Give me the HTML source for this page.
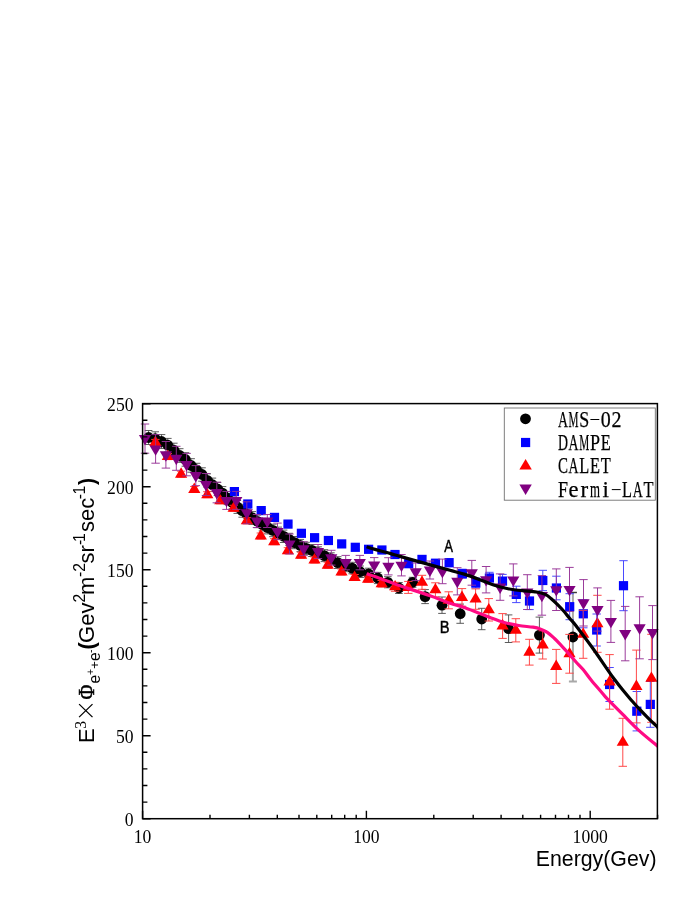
<!DOCTYPE html><html><head><meta charset="utf-8"><title>chart</title><style>html,body{margin:0;padding:0;background:#fff}svg{display:block;will-change:transform;opacity:0.999}</style></head><body><svg width="698" height="903" viewBox="0 0 698 903">
<rect width="698" height="903" fill="#fff"/>
<g>
<path d="M148.6 430.5V444.5M144.8 430.5H152.4M144.8 444.5H152.4" stroke="#4a4a4a" stroke-width="0.9" fill="none"/>
<path d="M155.2 431.8V445.7M151.4 431.8H159.0M151.4 445.7H159.0" stroke="#4a4a4a" stroke-width="0.9" fill="none"/>
<path d="M161.5 434.6V448.4M157.7 434.6H165.3M157.7 448.4H165.3" stroke="#4a4a4a" stroke-width="0.9" fill="none"/>
<path d="M167.8 438.4V452.1M164.0 438.4H171.6M164.0 452.1H171.6" stroke="#4a4a4a" stroke-width="0.9" fill="none"/>
<path d="M173.8 443.2V456.9M170.0 443.2H177.6M170.0 456.9H177.6" stroke="#4a4a4a" stroke-width="0.9" fill="none"/>
<path d="M179.7 448.7V462.3M175.9 448.7H183.5M175.9 462.3H183.5" stroke="#4a4a4a" stroke-width="0.9" fill="none"/>
<path d="M185.4 452.7V466.2M181.6 452.7H189.2M181.6 466.2H189.2" stroke="#4a4a4a" stroke-width="0.9" fill="none"/>
<path d="M191.1 458.7V472.2M187.3 458.7H194.9M187.3 472.2H194.9" stroke="#4a4a4a" stroke-width="0.9" fill="none"/>
<path d="M196.6 463.3V476.7M192.8 463.3H200.4M192.8 476.7H200.4" stroke="#4a4a4a" stroke-width="0.9" fill="none"/>
<path d="M202.0 467.8V481.2M198.2 467.8H205.8M198.2 481.2H205.8" stroke="#4a4a4a" stroke-width="0.9" fill="none"/>
<path d="M207.2 473.8V487.1M203.4 473.8H211.0M203.4 487.1H211.0" stroke="#4a4a4a" stroke-width="0.9" fill="none"/>
<path d="M212.4 478.1V491.4M208.6 478.1H216.2M208.6 491.4H216.2" stroke="#4a4a4a" stroke-width="0.9" fill="none"/>
<path d="M217.5 482.4V495.6M213.7 482.4H221.3M213.7 495.6H221.3" stroke="#4a4a4a" stroke-width="0.9" fill="none"/>
<path d="M222.5 486.6V499.7M218.7 486.6H226.3M218.7 499.7H226.3" stroke="#4a4a4a" stroke-width="0.9" fill="none"/>
<path d="M227.4 491.5V504.6M223.6 491.5H231.2M223.6 504.6H231.2" stroke="#4a4a4a" stroke-width="0.9" fill="none"/>
<path d="M232.3 496.0V509.0M228.5 496.0H236.1M228.5 509.0H236.1" stroke="#4a4a4a" stroke-width="0.9" fill="none"/>
<path d="M237.3 500.5V513.4M233.5 500.5H241.1M233.5 513.4H241.1" stroke="#4a4a4a" stroke-width="0.9" fill="none"/>
<path d="M242.2 504.3V517.2M238.4 504.3H246.0M238.4 517.2H246.0" stroke="#4a4a4a" stroke-width="0.9" fill="none"/>
<path d="M247.2 508.0V520.9M243.4 508.0H251.0M243.4 520.9H251.0" stroke="#4a4a4a" stroke-width="0.9" fill="none"/>
<path d="M252.3 511.6V524.4M248.5 511.6H256.1M248.5 524.4H256.1" stroke="#4a4a4a" stroke-width="0.9" fill="none"/>
<path d="M257.3 515.0V527.7M253.5 515.0H261.1M253.5 527.7H261.1" stroke="#4a4a4a" stroke-width="0.9" fill="none"/>
<path d="M262.5 518.3V530.9M258.7 518.3H266.3M258.7 530.9H266.3" stroke="#4a4a4a" stroke-width="0.9" fill="none"/>
<path d="M267.7 521.3V533.9M263.9 521.3H271.5M263.9 533.9H271.5" stroke="#4a4a4a" stroke-width="0.9" fill="none"/>
<path d="M272.9 524.2V536.7M269.1 524.2H276.7M269.1 536.7H276.7" stroke="#4a4a4a" stroke-width="0.9" fill="none"/>
<path d="M278.2 527.1V539.5M274.4 527.1H282.0M274.4 539.5H282.0" stroke="#4a4a4a" stroke-width="0.9" fill="none"/>
<path d="M283.6 530.1V542.5M279.8 530.1H287.4M279.8 542.5H287.4" stroke="#4a4a4a" stroke-width="0.9" fill="none"/>
<path d="M289.1 533.3V545.6M285.3 533.3H292.9M285.3 545.6H292.9" stroke="#4a4a4a" stroke-width="0.9" fill="none"/>
<path d="M294.6 536.5V548.7M290.8 536.5H298.4M290.8 548.7H298.4" stroke="#4a4a4a" stroke-width="0.9" fill="none"/>
<path d="M300.3 539.4V551.6M296.5 539.4H304.1M296.5 551.6H304.1" stroke="#4a4a4a" stroke-width="0.9" fill="none"/>
<path d="M306.1 542.3V554.4M302.3 542.3H309.9M302.3 554.4H309.9" stroke="#4a4a4a" stroke-width="0.9" fill="none"/>
<path d="M312.0 544.5V556.5M308.2 544.5H315.8M308.2 556.5H315.8" stroke="#4a4a4a" stroke-width="0.9" fill="none"/>
<path d="M318.1 546.8V558.7M314.3 546.8H321.9M314.3 558.7H321.9" stroke="#4a4a4a" stroke-width="0.9" fill="none"/>
<path d="M324.4 549.7V561.6M320.6 549.7H328.2M320.6 561.6H328.2" stroke="#4a4a4a" stroke-width="0.9" fill="none"/>
<path d="M330.9 552.8V564.6M327.1 552.8H334.7M327.1 564.6H334.7" stroke="#4a4a4a" stroke-width="0.9" fill="none"/>
<path d="M337.7 556.7V568.5M333.9 556.7H341.5M333.9 568.5H341.5" stroke="#4a4a4a" stroke-width="0.9" fill="none"/>
<path d="M344.8 560.1V571.7M341.0 560.1H348.6M341.0 571.7H348.6" stroke="#4a4a4a" stroke-width="0.9" fill="none"/>
<path d="M352.2 562.3V573.8M348.4 562.3H356.0M348.4 573.8H356.0" stroke="#4a4a4a" stroke-width="0.9" fill="none"/>
<path d="M360.1 566.0V577.5M356.3 566.0H363.9M356.3 577.5H363.9" stroke="#4a4a4a" stroke-width="0.9" fill="none"/>
<path d="M368.6 568.2V579.6M364.8 568.2H372.4M364.8 579.6H372.4" stroke="#4a4a4a" stroke-width="0.9" fill="none"/>
<path d="M377.7 572.4V583.6M373.9 572.4H381.5M373.9 583.6H381.5" stroke="#4a4a4a" stroke-width="0.9" fill="none"/>
<path d="M387.8 576.7V587.8M384.0 576.7H391.6M384.0 587.8H391.6" stroke="#4a4a4a" stroke-width="0.9" fill="none"/>
<path d="M398.9 582.5V593.5M395.1 582.5H402.7M395.1 593.5H402.7" stroke="#4a4a4a" stroke-width="0.9" fill="none"/>
<path d="M412.6 577.3V587.3M408.8 577.3H416.4M408.8 587.3H416.4" stroke="#4a4a4a" stroke-width="0.9" fill="none"/>
<path d="M425.1 589.6V603.6M421.3 589.6H428.9M421.3 603.6H428.9" stroke="#4a4a4a" stroke-width="0.9" fill="none"/>
<path d="M442.0 597.0V613.4M438.2 597.0H445.8M438.2 613.4H445.8" stroke="#4a4a4a" stroke-width="0.9" fill="none"/>
<path d="M460.2 604.1V623.3M456.4 604.1H464.0M456.4 623.3H464.0" stroke="#4a4a4a" stroke-width="0.9" fill="none"/>
<path d="M481.7 608.3V629.7M477.9 608.3H485.5M477.9 629.7H485.5" stroke="#4a4a4a" stroke-width="0.9" fill="none"/>
<path d="M508.6 614.9V642.5M504.8 614.9H512.4M504.8 642.5H512.4" stroke="#4a4a4a" stroke-width="0.9" fill="none"/>
<path d="M539.4 617.1V653.1M535.6 617.1H543.2M535.6 653.1H543.2" stroke="#4a4a4a" stroke-width="0.9" fill="none"/>
<path d="M572.9 592.5V681.5M568.9 592.5H576.9M568.9 681.5H576.9" stroke="#a8a8a8" stroke-width="2.0" fill="none"/>
<path d="M568.9 592.5H576.9" stroke="#222" stroke-width="0.8"/>
<circle cx="148.6" cy="437.5" r="5.4" fill="#000"/>
<circle cx="155.2" cy="438.7" r="5.4" fill="#000"/>
<circle cx="161.5" cy="441.5" r="5.4" fill="#000"/>
<circle cx="167.8" cy="445.2" r="5.4" fill="#000"/>
<circle cx="173.8" cy="450.1" r="5.4" fill="#000"/>
<circle cx="179.7" cy="455.5" r="5.4" fill="#000"/>
<circle cx="185.4" cy="459.5" r="5.4" fill="#000"/>
<circle cx="191.1" cy="465.5" r="5.4" fill="#000"/>
<circle cx="196.6" cy="470.0" r="5.4" fill="#000"/>
<circle cx="202.0" cy="474.5" r="5.4" fill="#000"/>
<circle cx="207.2" cy="480.4" r="5.4" fill="#000"/>
<circle cx="212.4" cy="484.7" r="5.4" fill="#000"/>
<circle cx="217.5" cy="489.0" r="5.4" fill="#000"/>
<circle cx="222.5" cy="493.1" r="5.4" fill="#000"/>
<circle cx="227.4" cy="498.0" r="5.4" fill="#000"/>
<circle cx="232.3" cy="502.5" r="5.4" fill="#000"/>
<circle cx="237.3" cy="507.0" r="5.4" fill="#000"/>
<circle cx="242.2" cy="510.7" r="5.4" fill="#000"/>
<circle cx="247.2" cy="514.4" r="5.4" fill="#000"/>
<circle cx="252.3" cy="518.0" r="5.4" fill="#000"/>
<circle cx="257.3" cy="521.3" r="5.4" fill="#000"/>
<circle cx="262.5" cy="524.6" r="5.4" fill="#000"/>
<circle cx="267.7" cy="527.6" r="5.4" fill="#000"/>
<circle cx="272.9" cy="530.4" r="5.4" fill="#000"/>
<circle cx="278.2" cy="533.3" r="5.4" fill="#000"/>
<circle cx="283.6" cy="536.3" r="5.4" fill="#000"/>
<circle cx="289.1" cy="539.4" r="5.4" fill="#000"/>
<circle cx="294.6" cy="542.6" r="5.4" fill="#000"/>
<circle cx="300.3" cy="545.5" r="5.4" fill="#000"/>
<circle cx="306.1" cy="548.4" r="5.4" fill="#000"/>
<circle cx="312.0" cy="550.5" r="5.4" fill="#000"/>
<circle cx="318.1" cy="552.7" r="5.4" fill="#000"/>
<circle cx="324.4" cy="555.7" r="5.4" fill="#000"/>
<circle cx="330.9" cy="558.7" r="5.4" fill="#000"/>
<circle cx="337.7" cy="562.6" r="5.4" fill="#000"/>
<circle cx="344.8" cy="565.9" r="5.4" fill="#000"/>
<circle cx="352.2" cy="568.1" r="5.4" fill="#000"/>
<circle cx="360.1" cy="571.7" r="5.4" fill="#000"/>
<circle cx="368.6" cy="573.9" r="5.4" fill="#000"/>
<circle cx="377.7" cy="578.0" r="5.4" fill="#000"/>
<circle cx="387.8" cy="582.3" r="5.4" fill="#000"/>
<circle cx="398.9" cy="588.0" r="5.4" fill="#000"/>
<circle cx="412.6" cy="582.3" r="5.4" fill="#000"/>
<circle cx="425.1" cy="596.6" r="5.4" fill="#000"/>
<circle cx="442.0" cy="605.2" r="5.4" fill="#000"/>
<circle cx="460.2" cy="613.7" r="5.4" fill="#000"/>
<circle cx="481.7" cy="619.0" r="5.4" fill="#000"/>
<circle cx="508.6" cy="628.7" r="5.4" fill="#000"/>
<circle cx="539.4" cy="635.1" r="5.4" fill="#000"/>
<circle cx="572.9" cy="637.0" r="5.4" fill="#000"/>
</g>
<g>
<path d="M234.4 489.6V493.6M230.2 489.6H238.6M230.2 493.6H238.6" stroke="#4040ff" stroke-width="0.95" fill="none"/>
<path d="M247.8 502.0V506.0M243.6 502.0H252.0M243.6 506.0H252.0" stroke="#4040ff" stroke-width="0.95" fill="none"/>
<path d="M261.2 508.6V512.6M257.0 508.6H265.4M257.0 512.6H265.4" stroke="#4040ff" stroke-width="0.95" fill="none"/>
<path d="M274.5 515.4V519.4M270.3 515.4H278.7M270.3 519.4H278.7" stroke="#4040ff" stroke-width="0.95" fill="none"/>
<path d="M288.0 522.1V526.1M283.8 522.1H292.2M283.8 526.1H292.2" stroke="#4040ff" stroke-width="0.95" fill="none"/>
<path d="M301.4 531.3V535.3M297.2 531.3H305.6M297.2 535.3H305.6" stroke="#4040ff" stroke-width="0.95" fill="none"/>
<path d="M314.6 535.7V539.7M310.4 535.7H318.8M310.4 539.7H318.8" stroke="#4040ff" stroke-width="0.95" fill="none"/>
<path d="M328.4 538.5V542.5M324.2 538.5H332.6M324.2 542.5H332.6" stroke="#4040ff" stroke-width="0.95" fill="none"/>
<path d="M341.7 541.9V545.9M337.5 541.9H345.9M337.5 545.9H345.9" stroke="#4040ff" stroke-width="0.95" fill="none"/>
<path d="M355.3 545.3V549.3M351.1 545.3H359.5M351.1 549.3H359.5" stroke="#4040ff" stroke-width="0.95" fill="none"/>
<path d="M368.6 547.3V551.3M364.4 547.3H372.8M364.4 551.3H372.8" stroke="#4040ff" stroke-width="0.95" fill="none"/>
<path d="M381.9 547.5V552.5M377.7 547.5H386.1M377.7 552.5H386.1" stroke="#4040ff" stroke-width="0.95" fill="none"/>
<path d="M395.0 551.5V557.5M390.8 551.5H399.2M390.8 557.5H399.2" stroke="#4040ff" stroke-width="0.95" fill="none"/>
<path d="M408.7 560.7V566.7M404.5 560.7H412.9M404.5 566.7H412.9" stroke="#4040ff" stroke-width="0.95" fill="none"/>
<path d="M422.0 555.9V562.9M417.8 555.9H426.2M417.8 562.9H426.2" stroke="#4040ff" stroke-width="0.95" fill="none"/>
<path d="M435.5 559.3V567.3M431.3 559.3H439.7M431.3 567.3H439.7" stroke="#4040ff" stroke-width="0.95" fill="none"/>
<path d="M449.1 558.7V566.7M444.9 558.7H453.3M444.9 566.7H453.3" stroke="#4040ff" stroke-width="0.95" fill="none"/>
<path d="M462.4 569.2V578.2M458.2 569.2H466.6M458.2 578.2H466.6" stroke="#4040ff" stroke-width="0.95" fill="none"/>
<path d="M475.8 578.0V588.0M471.6 578.0H480.0M471.6 588.0H480.0" stroke="#4040ff" stroke-width="0.95" fill="none"/>
<path d="M489.4 572.3V583.7M485.2 572.3H493.6M485.2 583.7H493.6" stroke="#4040ff" stroke-width="0.95" fill="none"/>
<path d="M502.5 574.4V587.8M498.3 574.4H506.7M498.3 587.8H506.7" stroke="#4040ff" stroke-width="0.95" fill="none"/>
<path d="M516.3 586.2V602.6M512.1 586.2H520.5M512.1 602.6H520.5" stroke="#4040ff" stroke-width="0.95" fill="none"/>
<path d="M529.5 592.4V609.6M525.3 592.4H533.7M525.3 609.6H533.7" stroke="#4040ff" stroke-width="0.95" fill="none"/>
<path d="M542.8 570.3V590.7M538.6 570.3H547.0M538.6 590.7H547.0" stroke="#4040ff" stroke-width="0.95" fill="none"/>
<path d="M556.4 576.2V599.8M552.2 576.2H560.6M552.2 599.8H560.6" stroke="#4040ff" stroke-width="0.95" fill="none"/>
<path d="M569.7 593.7V619.7M565.5 593.7H573.9M565.5 619.7H573.9" stroke="#4040ff" stroke-width="0.95" fill="none"/>
<path d="M583.3 599.8V627.8M579.1 599.8H587.5M579.1 627.8H587.5" stroke="#4040ff" stroke-width="0.95" fill="none"/>
<path d="M596.7 614.0V646.0M592.5 614.0H600.9M592.5 646.0H600.9" stroke="#4040ff" stroke-width="0.95" fill="none"/>
<path d="M609.6 667.5V701.5M605.4 667.5H613.8M605.4 701.5H613.8" stroke="#4040ff" stroke-width="0.95" fill="none"/>
<path d="M623.5 560.7V610.7M619.3 560.7H627.7M619.3 610.7H627.7" stroke="#4040ff" stroke-width="0.95" fill="none"/>
<path d="M636.8 691.5V730.9M632.6 691.5H641.0M632.6 730.9H641.0" stroke="#4040ff" stroke-width="0.95" fill="none"/>
<path d="M650.3 681.5V727.3M646.1 681.5H654.5M646.1 727.3H654.5" stroke="#4040ff" stroke-width="0.95" fill="none"/>
<rect x="229.8" y="487.0" width="9.2" height="9.2" fill="#0000ff"/>
<rect x="243.2" y="499.4" width="9.2" height="9.2" fill="#0000ff"/>
<rect x="256.6" y="506.0" width="9.2" height="9.2" fill="#0000ff"/>
<rect x="269.9" y="512.8" width="9.2" height="9.2" fill="#0000ff"/>
<rect x="283.4" y="519.5" width="9.2" height="9.2" fill="#0000ff"/>
<rect x="296.8" y="528.7" width="9.2" height="9.2" fill="#0000ff"/>
<rect x="310.0" y="533.1" width="9.2" height="9.2" fill="#0000ff"/>
<rect x="323.8" y="535.9" width="9.2" height="9.2" fill="#0000ff"/>
<rect x="337.1" y="539.3" width="9.2" height="9.2" fill="#0000ff"/>
<rect x="350.7" y="542.7" width="9.2" height="9.2" fill="#0000ff"/>
<rect x="364.0" y="544.7" width="9.2" height="9.2" fill="#0000ff"/>
<rect x="377.3" y="545.4" width="9.2" height="9.2" fill="#0000ff"/>
<rect x="390.4" y="549.9" width="9.2" height="9.2" fill="#0000ff"/>
<rect x="404.1" y="559.1" width="9.2" height="9.2" fill="#0000ff"/>
<rect x="417.4" y="554.8" width="9.2" height="9.2" fill="#0000ff"/>
<rect x="430.9" y="558.7" width="9.2" height="9.2" fill="#0000ff"/>
<rect x="444.5" y="558.1" width="9.2" height="9.2" fill="#0000ff"/>
<rect x="457.8" y="569.1" width="9.2" height="9.2" fill="#0000ff"/>
<rect x="471.2" y="578.4" width="9.2" height="9.2" fill="#0000ff"/>
<rect x="484.8" y="573.4" width="9.2" height="9.2" fill="#0000ff"/>
<rect x="497.9" y="576.5" width="9.2" height="9.2" fill="#0000ff"/>
<rect x="511.7" y="589.8" width="9.2" height="9.2" fill="#0000ff"/>
<rect x="524.9" y="596.4" width="9.2" height="9.2" fill="#0000ff"/>
<rect x="538.2" y="575.9" width="9.2" height="9.2" fill="#0000ff"/>
<rect x="551.8" y="583.4" width="9.2" height="9.2" fill="#0000ff"/>
<rect x="565.1" y="602.1" width="9.2" height="9.2" fill="#0000ff"/>
<rect x="578.7" y="609.2" width="9.2" height="9.2" fill="#0000ff"/>
<rect x="592.1" y="625.4" width="9.2" height="9.2" fill="#0000ff"/>
<rect x="605.0" y="679.9" width="9.2" height="9.2" fill="#0000ff"/>
<rect x="618.9" y="581.1" width="9.2" height="9.2" fill="#0000ff"/>
<rect x="632.2" y="706.6" width="9.2" height="9.2" fill="#0000ff"/>
<rect x="645.7" y="699.8" width="9.2" height="9.2" fill="#0000ff"/>
</g>
<g>
<path d="M155.4 439.4V445.4M151.2 439.4H159.6M151.2 445.4H159.6" stroke="#ff4040" stroke-width="0.95" fill="none"/>
<path d="M167.8 453.6V459.6M163.6 453.6H172.0M163.6 459.6H172.0" stroke="#ff4040" stroke-width="0.95" fill="none"/>
<path d="M181.1 471.2V477.2M176.9 471.2H185.3M176.9 477.2H185.3" stroke="#ff4040" stroke-width="0.95" fill="none"/>
<path d="M194.3 486.5V492.5M190.1 486.5H198.5M190.1 492.5H198.5" stroke="#ff4040" stroke-width="0.95" fill="none"/>
<path d="M207.3 491.7V497.7M203.1 491.7H211.5M203.1 497.7H211.5" stroke="#ff4040" stroke-width="0.95" fill="none"/>
<path d="M220.3 497.8V503.8M216.1 497.8H224.5M216.1 503.8H224.5" stroke="#ff4040" stroke-width="0.95" fill="none"/>
<path d="M233.6 505.3V511.3M229.4 505.3H237.8M229.4 511.3H237.8" stroke="#ff4040" stroke-width="0.95" fill="none"/>
<path d="M246.9 517.7V523.7M242.7 517.7H251.1M242.7 523.7H251.1" stroke="#ff4040" stroke-width="0.95" fill="none"/>
<path d="M260.8 533.0V539.0M256.6 533.0H265.0M256.6 539.0H265.0" stroke="#ff4040" stroke-width="0.95" fill="none"/>
<path d="M274.2 538.7V544.7M270.0 538.7H278.4M270.0 544.7H278.4" stroke="#ff4040" stroke-width="0.95" fill="none"/>
<path d="M287.9 547.7V553.7M283.7 547.7H292.1M283.7 553.7H292.1" stroke="#ff4040" stroke-width="0.95" fill="none"/>
<path d="M301.1 552.2V558.2M296.9 552.2H305.3M296.9 558.2H305.3" stroke="#ff4040" stroke-width="0.95" fill="none"/>
<path d="M314.5 557.0V563.0M310.3 557.0H318.7M310.3 563.0H318.7" stroke="#ff4040" stroke-width="0.95" fill="none"/>
<path d="M327.8 562.2V568.2M323.6 562.2H332.0M323.6 568.2H332.0" stroke="#ff4040" stroke-width="0.95" fill="none"/>
<path d="M341.5 569.0V575.0M337.3 569.0H345.7M337.3 575.0H345.7" stroke="#ff4040" stroke-width="0.95" fill="none"/>
<path d="M354.6 574.5V580.5M350.4 574.5H358.8M350.4 580.5H358.8" stroke="#ff4040" stroke-width="0.95" fill="none"/>
<path d="M368.1 576.2V582.2M363.9 576.2H372.3M363.9 582.2H372.3" stroke="#ff4040" stroke-width="0.95" fill="none"/>
<path d="M381.7 580.5V587.1M377.5 580.5H385.9M377.5 587.1H385.9" stroke="#ff4040" stroke-width="0.95" fill="none"/>
<path d="M395.1 582.3V591.3M390.9 582.3H399.3M390.9 591.3H399.3" stroke="#ff4040" stroke-width="0.95" fill="none"/>
<path d="M408.3 581.4V593.4M404.1 581.4H412.5M404.1 593.4H412.5" stroke="#ff4040" stroke-width="0.95" fill="none"/>
<path d="M422.0 575.3V589.3M417.8 575.3H426.2M417.8 589.3H426.2" stroke="#ff4040" stroke-width="0.95" fill="none"/>
<path d="M435.4 582.8V596.8M431.2 582.8H439.6M431.2 596.8H439.6" stroke="#ff4040" stroke-width="0.95" fill="none"/>
<path d="M448.7 591.8V608.8M444.5 591.8H452.9M444.5 608.8H452.9" stroke="#ff4040" stroke-width="0.95" fill="none"/>
<path d="M462.0 588.6V606.2M457.8 588.6H466.2M457.8 606.2H466.2" stroke="#ff4040" stroke-width="0.95" fill="none"/>
<path d="M475.6 588.9V609.3M471.4 588.9H479.8M471.4 609.3H479.8" stroke="#ff4040" stroke-width="0.95" fill="none"/>
<path d="M488.8 598.6V621.0M484.6 598.6H493.0M484.6 621.0H493.0" stroke="#ff4040" stroke-width="0.95" fill="none"/>
<path d="M502.6 613.6V638.4M498.4 613.6H506.8M498.4 638.4H506.8" stroke="#ff4040" stroke-width="0.95" fill="none"/>
<path d="M515.8 618.7V641.9M511.6 618.7H520.0M511.6 641.9H520.0" stroke="#ff4040" stroke-width="0.95" fill="none"/>
<path d="M529.4 639.3V665.1M525.2 639.3H533.6M525.2 665.1H533.6" stroke="#ff4040" stroke-width="0.95" fill="none"/>
<path d="M542.7 630.8V659.0M538.5 630.8H546.9M538.5 659.0H546.9" stroke="#ff4040" stroke-width="0.95" fill="none"/>
<path d="M556.2 649.4V683.4M552.0 649.4H560.4M552.0 683.4H560.4" stroke="#ff4040" stroke-width="0.95" fill="none"/>
<path d="M569.5 634.4V673.2M565.3 634.4H573.7M565.3 673.2H573.7" stroke="#ff4040" stroke-width="0.95" fill="none"/>
<path d="M583.2 610.3V658.3M579.0 610.3H587.4M579.0 658.3H587.4" stroke="#ff4040" stroke-width="0.95" fill="none"/>
<path d="M597.4 595.3V652.3M593.2 595.3H601.6M593.2 652.3H601.6" stroke="#ff4040" stroke-width="0.95" fill="none"/>
<path d="M609.6 654.6V709.2M605.4 654.6H613.8M605.4 709.2H613.8" stroke="#ff4040" stroke-width="0.95" fill="none"/>
<path d="M622.8 718.3V766.3M618.6 718.3H627.0M618.6 766.3H627.0" stroke="#ff4040" stroke-width="0.95" fill="none"/>
<path d="M636.4 650.1V722.9M632.2 650.1H640.6M632.2 722.9H640.6" stroke="#ff4040" stroke-width="0.95" fill="none"/>
<path d="M651.4 634.3V722.3M647.2 634.3H655.6M647.2 722.3H655.6" stroke="#ff4040" stroke-width="0.95" fill="none"/>
<path d="M155.4 435.5L161.5 445.9H149.3Z" fill="#ff0000"/>
<path d="M167.8 449.7L173.9 460.1H161.7Z" fill="#ff0000"/>
<path d="M181.1 467.3L187.2 477.7H175.0Z" fill="#ff0000"/>
<path d="M194.3 482.6L200.4 493.0H188.2Z" fill="#ff0000"/>
<path d="M207.3 487.8L213.4 498.2H201.2Z" fill="#ff0000"/>
<path d="M220.3 493.9L226.4 504.3H214.2Z" fill="#ff0000"/>
<path d="M233.6 501.4L239.7 511.8H227.5Z" fill="#ff0000"/>
<path d="M246.9 513.8L253.0 524.2H240.8Z" fill="#ff0000"/>
<path d="M260.8 529.1L266.9 539.5H254.7Z" fill="#ff0000"/>
<path d="M274.2 534.8L280.3 545.2H268.1Z" fill="#ff0000"/>
<path d="M287.9 543.8L294.0 554.2H281.8Z" fill="#ff0000"/>
<path d="M301.1 548.3L307.2 558.7H295.0Z" fill="#ff0000"/>
<path d="M314.5 553.1L320.6 563.5H308.4Z" fill="#ff0000"/>
<path d="M327.8 558.3L333.9 568.7H321.7Z" fill="#ff0000"/>
<path d="M341.5 565.1L347.6 575.5H335.4Z" fill="#ff0000"/>
<path d="M354.6 570.6L360.7 581.0H348.5Z" fill="#ff0000"/>
<path d="M368.1 572.3L374.2 582.7H362.0Z" fill="#ff0000"/>
<path d="M381.7 576.9L387.8 587.3H375.6Z" fill="#ff0000"/>
<path d="M395.1 579.9L401.2 590.3H389.0Z" fill="#ff0000"/>
<path d="M408.3 580.5L414.4 590.9H402.2Z" fill="#ff0000"/>
<path d="M422.0 575.4L428.1 585.8H415.9Z" fill="#ff0000"/>
<path d="M435.4 582.9L441.5 593.3H429.3Z" fill="#ff0000"/>
<path d="M448.7 593.4L454.8 603.8H442.6Z" fill="#ff0000"/>
<path d="M462.0 590.5L468.1 600.9H455.9Z" fill="#ff0000"/>
<path d="M475.6 592.2L481.7 602.6H469.5Z" fill="#ff0000"/>
<path d="M488.8 602.9L494.9 613.3H482.7Z" fill="#ff0000"/>
<path d="M502.6 619.1L508.7 629.5H496.5Z" fill="#ff0000"/>
<path d="M515.8 623.4L521.9 633.8H509.7Z" fill="#ff0000"/>
<path d="M529.4 645.3L535.5 655.7H523.3Z" fill="#ff0000"/>
<path d="M542.7 638.0L548.8 648.4H536.6Z" fill="#ff0000"/>
<path d="M556.2 659.5L562.3 669.9H550.1Z" fill="#ff0000"/>
<path d="M569.5 646.9L575.6 657.3H563.4Z" fill="#ff0000"/>
<path d="M583.2 627.4L589.3 637.8H577.1Z" fill="#ff0000"/>
<path d="M597.4 616.9L603.5 627.3H591.3Z" fill="#ff0000"/>
<path d="M609.6 675.0L615.7 685.4H603.5Z" fill="#ff0000"/>
<path d="M622.8 735.4L628.9 745.8H616.7Z" fill="#ff0000"/>
<path d="M636.4 679.6L642.5 690.0H630.3Z" fill="#ff0000"/>
<path d="M651.4 671.4L657.5 681.8H645.3Z" fill="#ff0000"/>
</g>
<g>
<path d="M145.0 424.0V453.2M140.8 424.0H149.2M140.8 453.2H149.2" stroke="#963296" stroke-width="0.95" fill="none"/>
<path d="M155.6 434.6V463.2M151.4 434.6H159.8M151.4 463.2H159.8" stroke="#963296" stroke-width="0.95" fill="none"/>
<path d="M165.9 441.5V468.1M161.7 441.5H170.1M161.7 468.1H170.1" stroke="#963296" stroke-width="0.95" fill="none"/>
<path d="M176.3 446.3V470.3M172.1 446.3H180.5M172.1 470.3H180.5" stroke="#963296" stroke-width="0.95" fill="none"/>
<path d="M186.6 453.4V475.8M182.4 453.4H190.8M182.4 475.8H190.8" stroke="#963296" stroke-width="0.95" fill="none"/>
<path d="M195.8 465.6V485.6M191.6 465.6H200.0M191.6 485.6H200.0" stroke="#963296" stroke-width="0.95" fill="none"/>
<path d="M206.0 473.5V495.5M201.8 473.5H210.2M201.8 495.5H210.2" stroke="#963296" stroke-width="0.95" fill="none"/>
<path d="M216.8 482.2V502.8M212.6 482.2H221.0M212.6 502.8H221.0" stroke="#963296" stroke-width="0.95" fill="none"/>
<path d="M226.5 491.4V509.4M222.3 491.4H230.7M222.3 509.4H230.7" stroke="#963296" stroke-width="0.95" fill="none"/>
<path d="M236.3 491.4V509.4M232.1 491.4H240.5M232.1 509.4H240.5" stroke="#963296" stroke-width="0.95" fill="none"/>
<path d="M246.8 501.8V523.8M242.6 501.8H251.0M242.6 523.8H251.0" stroke="#963296" stroke-width="0.95" fill="none"/>
<path d="M257.0 514.5V527.5M252.8 514.5H261.2M252.8 527.5H261.2" stroke="#963296" stroke-width="0.95" fill="none"/>
<path d="M267.3 514.5V527.5M263.1 514.5H271.5M263.1 527.5H271.5" stroke="#963296" stroke-width="0.95" fill="none"/>
<path d="M277.5 523.1V539.7M273.3 523.1H281.7M273.3 539.7H281.7" stroke="#963296" stroke-width="0.95" fill="none"/>
<path d="M289.5 534.0V554.0M285.3 534.0H293.7M285.3 554.0H293.7" stroke="#963296" stroke-width="0.95" fill="none"/>
<path d="M303.6 541.7V555.7M299.4 541.7H307.8M299.4 555.7H307.8" stroke="#963296" stroke-width="0.95" fill="none"/>
<path d="M318.0 544.5V558.5M313.8 544.5H322.2M313.8 558.5H322.2" stroke="#963296" stroke-width="0.95" fill="none"/>
<path d="M331.3 550.3V565.1M327.1 550.3H335.5M327.1 565.1H335.5" stroke="#963296" stroke-width="0.95" fill="none"/>
<path d="M345.7 555.4V569.8M341.5 555.4H349.9M341.5 569.8H349.9" stroke="#963296" stroke-width="0.95" fill="none"/>
<path d="M359.8 555.4V569.8M355.6 555.4H364.0M355.6 569.8H364.0" stroke="#963296" stroke-width="0.95" fill="none"/>
<path d="M374.2 557.6V572.4M370.0 557.6H378.4M370.0 572.4H378.4" stroke="#963296" stroke-width="0.95" fill="none"/>
<path d="M388.4 557.7V574.9M384.2 557.7H392.6M384.2 574.9H392.6" stroke="#963296" stroke-width="0.95" fill="none"/>
<path d="M401.5 554.5V575.9M397.3 554.5H405.7M397.3 575.9H405.7" stroke="#963296" stroke-width="0.95" fill="none"/>
<path d="M415.7 563.0V580.6M411.5 563.0H419.9M411.5 580.6H419.9" stroke="#963296" stroke-width="0.95" fill="none"/>
<path d="M429.9 561.0V579.0M425.7 561.0H434.1M425.7 579.0H434.1" stroke="#963296" stroke-width="0.95" fill="none"/>
<path d="M442.4 559.1V583.7M438.2 559.1H446.6M438.2 583.7H446.6" stroke="#963296" stroke-width="0.95" fill="none"/>
<path d="M457.3 567.7V594.9M453.1 567.7H461.5M453.1 594.9H461.5" stroke="#963296" stroke-width="0.95" fill="none"/>
<path d="M471.8 560.4V585.2M467.6 560.4H476.0M467.6 585.2H476.0" stroke="#963296" stroke-width="0.95" fill="none"/>
<path d="M486.1 566.5V592.9M481.9 566.5H490.3M481.9 592.9H490.3" stroke="#963296" stroke-width="0.95" fill="none"/>
<path d="M500.1 573.9V600.3M495.9 573.9H504.3M495.9 600.3H504.3" stroke="#963296" stroke-width="0.95" fill="none"/>
<path d="M513.3 563.9V595.9M509.1 563.9H517.5M509.1 595.9H517.5" stroke="#963296" stroke-width="0.95" fill="none"/>
<path d="M527.3 574.7V609.5M523.1 574.7H531.5M523.1 609.5H531.5" stroke="#963296" stroke-width="0.95" fill="none"/>
<path d="M541.9 575.6V615.2M537.7 575.6H546.1M537.7 615.2H546.1" stroke="#963296" stroke-width="0.95" fill="none"/>
<path d="M556.3 568.9V610.5M552.1 568.9H560.5M552.1 610.5H560.5" stroke="#963296" stroke-width="0.95" fill="none"/>
<path d="M569.5 567.4V611.4M565.3 567.4H573.7M565.3 611.4H573.7" stroke="#963296" stroke-width="0.95" fill="none"/>
<path d="M583.5 579.6V626.0M579.3 579.6H587.7M579.3 626.0H587.7" stroke="#963296" stroke-width="0.95" fill="none"/>
<path d="M597.5 587.9V631.1M593.3 587.9H601.7M593.3 631.1H601.7" stroke="#963296" stroke-width="0.95" fill="none"/>
<path d="M610.9 600.4V642.4M606.7 600.4H615.1M606.7 642.4H615.1" stroke="#963296" stroke-width="0.95" fill="none"/>
<path d="M625.2 606.4V660.8M621.0 606.4H629.4M621.0 660.8H629.4" stroke="#963296" stroke-width="0.95" fill="none"/>
<path d="M639.6 596.8V658.8M635.4 596.8H643.8M635.4 658.8H643.8" stroke="#963296" stroke-width="0.95" fill="none"/>
<path d="M652.5 605.6V659.6M648.3 605.6H656.7M648.3 659.6H656.7" stroke="#963296" stroke-width="0.95" fill="none"/>
<path d="M145.0 445.5L151.1 435.1H138.9Z" fill="#800080"/>
<path d="M155.6 455.8L161.7 445.4H149.5Z" fill="#800080"/>
<path d="M165.9 461.7L172.0 451.3H159.8Z" fill="#800080"/>
<path d="M176.3 465.2L182.4 454.8H170.2Z" fill="#800080"/>
<path d="M186.6 471.5L192.7 461.1H180.5Z" fill="#800080"/>
<path d="M195.8 482.5L201.9 472.1H189.7Z" fill="#800080"/>
<path d="M206.0 491.4L212.1 481.0H199.9Z" fill="#800080"/>
<path d="M216.8 499.4L222.9 489.0H210.7Z" fill="#800080"/>
<path d="M226.5 507.3L232.6 496.9H220.4Z" fill="#800080"/>
<path d="M236.3 507.3L242.4 496.9H230.2Z" fill="#800080"/>
<path d="M246.8 519.7L252.9 509.3H240.7Z" fill="#800080"/>
<path d="M257.0 527.9L263.1 517.5H250.9Z" fill="#800080"/>
<path d="M267.3 527.9L273.4 517.5H261.2Z" fill="#800080"/>
<path d="M277.5 538.3L283.6 527.9H271.4Z" fill="#800080"/>
<path d="M289.5 550.9L295.6 540.5H283.4Z" fill="#800080"/>
<path d="M303.6 555.6L309.7 545.2H297.5Z" fill="#800080"/>
<path d="M318.0 558.4L324.1 548.0H311.9Z" fill="#800080"/>
<path d="M331.3 564.6L337.4 554.2H325.2Z" fill="#800080"/>
<path d="M345.7 569.5L351.8 559.1H339.6Z" fill="#800080"/>
<path d="M359.8 569.5L365.9 559.1H353.7Z" fill="#800080"/>
<path d="M374.2 571.9L380.3 561.5H368.1Z" fill="#800080"/>
<path d="M388.4 573.2L394.5 562.8H382.3Z" fill="#800080"/>
<path d="M401.5 572.1L407.6 561.7H395.4Z" fill="#800080"/>
<path d="M415.7 578.7L421.8 568.3H409.6Z" fill="#800080"/>
<path d="M429.9 576.9L436.0 566.5H423.8Z" fill="#800080"/>
<path d="M442.4 578.3L448.5 567.9H436.3Z" fill="#800080"/>
<path d="M457.3 588.2L463.4 577.8H451.2Z" fill="#800080"/>
<path d="M471.8 579.7L477.9 569.3H465.7Z" fill="#800080"/>
<path d="M486.1 586.6L492.2 576.2H480.0Z" fill="#800080"/>
<path d="M500.1 594.0L506.2 583.6H494.0Z" fill="#800080"/>
<path d="M513.3 586.8L519.4 576.4H507.2Z" fill="#800080"/>
<path d="M527.3 599.0L533.4 588.6H521.2Z" fill="#800080"/>
<path d="M541.9 602.3L548.0 591.9H535.8Z" fill="#800080"/>
<path d="M556.3 596.6L562.4 586.2H550.2Z" fill="#800080"/>
<path d="M569.5 596.3L575.6 585.9H563.4Z" fill="#800080"/>
<path d="M583.5 609.7L589.6 599.3H577.4Z" fill="#800080"/>
<path d="M597.5 616.4L603.6 606.0H591.4Z" fill="#800080"/>
<path d="M610.9 628.3L617.0 617.9H604.8Z" fill="#800080"/>
<path d="M625.2 640.5L631.3 630.1H619.1Z" fill="#800080"/>
<path d="M639.6 634.7L645.7 624.3H633.5Z" fill="#800080"/>
<path d="M652.5 639.5L658.6 629.1H646.4Z" fill="#800080"/>
</g>
<clipPath id="fr"><rect x="142.6" y="403.6" width="514.8" height="415.1"/></clipPath>
<g clip-path="url(#fr)">
<path d="M366.6 546.7C368.0 547.2 371.1 548.3 375.0 549.4C378.9 550.5 385.8 552.2 390.0 553.4C394.2 554.6 394.2 554.7 400.0 556.4C405.8 558.1 416.7 561.1 425.0 563.4C433.3 565.7 443.3 568.5 450.0 570.3C456.7 572.1 460.1 572.9 465.0 574.4C469.9 575.9 474.5 577.6 479.3 579.4C484.1 581.2 488.9 583.5 493.7 585.1C498.5 586.7 503.2 587.8 508.0 588.7C512.8 589.6 517.5 590.1 522.3 590.6C527.1 591.1 532.8 591.4 536.6 592.0C540.4 592.6 542.8 593.3 545.2 594.4C547.6 595.5 548.9 596.7 551.0 598.5C553.1 600.3 556.1 603.2 558.1 605.2C560.1 607.2 561.2 608.2 563.2 610.5C565.2 612.8 568.1 616.5 570.2 619.0C572.3 621.5 572.2 620.9 575.8 625.5C579.3 630.1 586.2 639.2 591.5 646.5C596.8 653.8 603.5 663.8 607.3 669.3C611.1 674.8 611.8 675.8 614.4 679.3C617.0 682.8 620.2 686.9 623.0 690.3C625.8 693.7 628.3 696.7 630.9 699.7C633.5 702.7 636.2 705.6 638.8 708.4C641.4 711.2 643.6 713.5 646.7 716.6C649.8 719.7 654.5 724.2 657.4 727.0C660.3 729.8 662.9 732.2 664.0 733.2" stroke="#000" stroke-width="3.2" fill="none" stroke-linejoin="round"/>
<path d="M366.6 573.8C368.0 574.3 371.1 575.2 375.0 576.6C378.9 578.0 385.8 580.5 390.0 582.0C394.2 583.5 393.4 583.5 400.0 585.8C406.6 588.0 421.0 592.6 429.4 595.5C437.8 598.4 444.2 601.2 450.1 603.2C456.0 605.2 458.4 605.4 465.0 607.8C471.6 610.2 483.4 615.0 490.0 617.5C496.6 620.0 499.5 621.2 504.3 622.5C509.1 623.8 513.9 624.7 518.7 625.5C523.5 626.3 529.4 626.6 533.0 627.2C536.6 627.8 537.7 628.0 540.1 628.9C542.5 629.8 544.9 630.8 547.3 632.4C549.7 634.0 552.1 636.3 554.5 638.5C556.9 640.7 559.2 643.3 561.6 645.8C564.0 648.3 566.4 651.0 568.8 653.7C571.2 656.4 573.6 659.4 576.0 662.0C578.4 664.6 580.5 666.4 583.1 669.5C585.7 672.6 588.2 676.5 591.5 680.5C594.8 684.5 600.0 690.4 602.6 693.5C605.2 696.6 603.9 695.4 607.3 698.9C610.7 702.4 617.8 709.5 623.0 714.7C628.2 720.0 633.1 725.2 638.8 730.4C644.5 735.6 653.2 742.5 657.4 746.0C661.6 749.5 662.9 750.5 664.0 751.4" stroke="#ff0a84" stroke-width="3.2" fill="none" stroke-linejoin="round"/>
</g>
<rect x="142.6" y="403.6" width="514.8" height="415.1" fill="none" stroke="#000" stroke-width="1.5"/>
<path d="M142.6 818.7h8M142.6 802.1h4.8M142.6 785.5h4.8M142.6 768.9h4.8M142.6 752.3h4.8M142.6 735.7h8M142.6 719.1h4.8M142.6 702.5h4.8M142.6 685.9h4.8M142.6 669.3h4.8M142.6 652.7h8M142.6 636.1h4.8M142.6 619.5h4.8M142.6 602.9h4.8M142.6 586.3h4.8M142.6 569.7h8M142.6 553.1h4.8M142.6 536.5h4.8M142.6 519.9h4.8M142.6 503.3h4.8M142.6 486.7h8M142.6 470.1h4.8M142.6 453.5h4.8M142.6 436.9h4.8M142.6 420.3h4.8M142.6 403.7h8M142.6 818.75v-8M210.0 818.75v-4M249.4 818.75v-4M277.3 818.75v-4M299.0 818.75v-4M316.8 818.75v-4M331.7 818.75v-4M344.7 818.75v-4M356.2 818.75v-4M366.4 818.75v-8M433.8 818.75v-4M473.2 818.75v-4M501.1 818.75v-4M522.8 818.75v-4M540.6 818.75v-4M555.5 818.75v-4M568.5 818.75v-4M580.0 818.75v-4M590.2 818.75v-8M657.6 818.75v-4" stroke="#000" stroke-width="1.4" fill="none"/>
<g font-family="Liberation Serif, serif" font-size="19.5px" fill="#000">
<text x="124.7" y="825.9" textLength="8.8" lengthAdjust="spacingAndGlyphs">0</text>
<text x="115.9" y="742.9" textLength="17.6" lengthAdjust="spacingAndGlyphs">50</text>
<text x="107.1" y="659.9" textLength="26.4" lengthAdjust="spacingAndGlyphs">100</text>
<text x="107.1" y="576.9" textLength="26.4" lengthAdjust="spacingAndGlyphs">150</text>
<text x="107.1" y="493.9" textLength="26.4" lengthAdjust="spacingAndGlyphs">200</text>
<text x="107.1" y="410.9" textLength="26.4" lengthAdjust="spacingAndGlyphs">250</text>
<text x="133.8" y="842.8" textLength="17.6" lengthAdjust="spacingAndGlyphs">10</text>
<text x="353.2" y="842.8" textLength="26.4" lengthAdjust="spacingAndGlyphs">100</text>
<text x="572.6" y="842.8" textLength="35.2" lengthAdjust="spacingAndGlyphs">1000</text>
</g>
<text x="656.5" y="866.2" text-anchor="end" font-family="Liberation Sans, sans-serif" font-size="21.3px" fill="#000">Energy(Gev)</text>
<g font-family="Liberation Sans, sans-serif" font-size="17px" fill="#000" stroke="#000" stroke-width="0.45">
<text x="444.3" y="552.4" textLength="8.7" lengthAdjust="spacingAndGlyphs">A</text><text x="439.8" y="632.9" textLength="9.8" lengthAdjust="spacingAndGlyphs">B</text></g>
<g transform="translate(93.5,743) rotate(-90)" font-family="Liberation Sans, sans-serif" font-size="22px" fill="#000">
<text x="0.1" y="0" font-size="22px" font-family="Liberation Sans" font-weight="normal">E</text>
<text x="14.3" y="-8.0" font-size="15.75px" font-family="Liberation Serif" font-weight="normal">3</text>
<text x="59.5" y="6.5" font-size="15.75px" font-family="Liberation Sans" font-weight="normal">e</text>
<text x="67.9" y="0.2" font-size="10.5px" font-family="Liberation Sans" font-weight="normal">+</text>
<text x="74.0" y="5.8" font-size="13.5px" font-family="Liberation Sans" font-weight="normal">+</text>
<text x="82.1" y="6.5" font-size="15.75px" font-family="Liberation Sans" font-weight="normal">e</text>
<text x="90.0" y="0.2" font-size="10.5px" font-family="Liberation Sans" font-weight="normal">-</text>
<text x="93.4" y="0" font-size="21.6px" font-family="Liberation Sans" font-weight="bold">(</text>
<text x="100.1" y="0" font-size="22px" font-family="Liberation Sans" font-weight="normal">Gev</text>
<text x="140.5" y="-8.2" font-size="15.75px" font-family="Liberation Sans" font-weight="normal">2</text>
<text x="148.1" y="0" font-size="22px" font-family="Liberation Sans" font-weight="normal">m</text>
<text x="165.9" y="-8.2" font-size="15.75px" font-family="Liberation Sans" font-weight="normal">-</text>
<text x="171.3" y="-8.2" font-size="15.75px" font-family="Liberation Sans" font-weight="normal">2</text>
<text x="179.4" y="0" font-size="22px" font-family="Liberation Sans" font-weight="normal">sr</text>
<text x="198.1" y="-8.2" font-size="15.75px" font-family="Liberation Sans" font-weight="normal">-</text>
<text x="201.1" y="-8.2" font-size="15.75px" font-family="Liberation Sans" font-weight="normal">1</text>
<text x="211.0" y="0" font-size="22px" font-family="Liberation Sans" font-weight="normal">sec</text>
<text x="243.7" y="-8.2" font-size="15.75px" font-family="Liberation Sans" font-weight="normal">-</text>
<text x="248.6" y="-8.2" font-size="15.75px" font-family="Liberation Sans" font-weight="normal">1</text>
<text x="257.9" y="0" font-size="21.6px" font-family="Liberation Sans" font-weight="bold">)</text>
<text transform="translate(43.4,0) scale(0.86,1)" x="0" y="0" font-size="23.6px" font-family="Liberation Serif" stroke="#000" stroke-width="0.5">Φ</text>
<path d="M25.9 -1.0L38.9 -14.4M25.9 -14.4L38.9 -1.0" stroke="#000" stroke-width="1.3" fill="none"/>
</g>
<rect x="504.3" y="408" width="151.0" height="92.2" fill="#fff" stroke="#707070" stroke-width="0.9"/>
<circle cx="525.5" cy="418.8" r="5.4" fill="#000"/>
<rect x="521.0" y="437.9" width="9.2" height="9.2" fill="#0000ff"/>
<path d="M525.6 459.1L531.8 469.4H519.4Z" fill="#ff0000"/>
<path d="M525.6 494.9L531.8 484.6H519.4Z" fill="#800080"/>
<g font-family="Liberation Serif, serif" font-size="23px" fill="#000" stroke="#000" stroke-width="0.25">
<text x="558.0" y="426.5" textLength="10.0" lengthAdjust="spacingAndGlyphs">A</text>
<text x="568.6" y="426.5" textLength="10.0" lengthAdjust="spacingAndGlyphs">M</text>
<text x="579.3" y="426.5" textLength="10.0" lengthAdjust="spacingAndGlyphs">S</text>
<path d="M590.4 419.5h8.9" stroke="#000" stroke-width="1.0"/>
<text x="600.7" y="426.5" textLength="10.0" lengthAdjust="spacingAndGlyphs">0</text>
<text x="611.4" y="426.5" textLength="10.0" lengthAdjust="spacingAndGlyphs">2</text>
<text x="558.0" y="449.9" textLength="10.0" lengthAdjust="spacingAndGlyphs">D</text>
<text x="568.6" y="449.9" textLength="10.0" lengthAdjust="spacingAndGlyphs">A</text>
<text x="579.3" y="449.9" textLength="10.0" lengthAdjust="spacingAndGlyphs">M</text>
<text x="590.0" y="449.9" textLength="10.0" lengthAdjust="spacingAndGlyphs">P</text>
<text x="600.7" y="449.9" textLength="10.0" lengthAdjust="spacingAndGlyphs">E</text>
<text x="558.0" y="473.4" textLength="10.0" lengthAdjust="spacingAndGlyphs">C</text>
<text x="568.6" y="473.4" textLength="10.0" lengthAdjust="spacingAndGlyphs">A</text>
<text x="579.3" y="473.4" textLength="10.0" lengthAdjust="spacingAndGlyphs">L</text>
<text x="590.0" y="473.4" textLength="10.0" lengthAdjust="spacingAndGlyphs">E</text>
<text x="600.7" y="473.4" textLength="10.0" lengthAdjust="spacingAndGlyphs">T</text>
<text x="558.0" y="496.6" textLength="10.0" lengthAdjust="spacingAndGlyphs">F</text>
<text x="568.6" y="496.6" textLength="10.0" lengthAdjust="spacingAndGlyphs">e</text>
<text x="580.5" y="496.6">r</text>
<text x="590.0" y="496.6" textLength="10.0" lengthAdjust="spacingAndGlyphs">m</text>
<text x="602.5" y="496.6">i</text>
<path d="M611.8 489.6h8.9" stroke="#000" stroke-width="1.0"/>
<text x="622.0" y="496.6" textLength="10.0" lengthAdjust="spacingAndGlyphs">L</text>
<text x="632.7" y="496.6" textLength="10.0" lengthAdjust="spacingAndGlyphs">A</text>
<text x="643.4" y="496.6" textLength="10.0" lengthAdjust="spacingAndGlyphs">T</text>
</g>
</svg></body></html>
